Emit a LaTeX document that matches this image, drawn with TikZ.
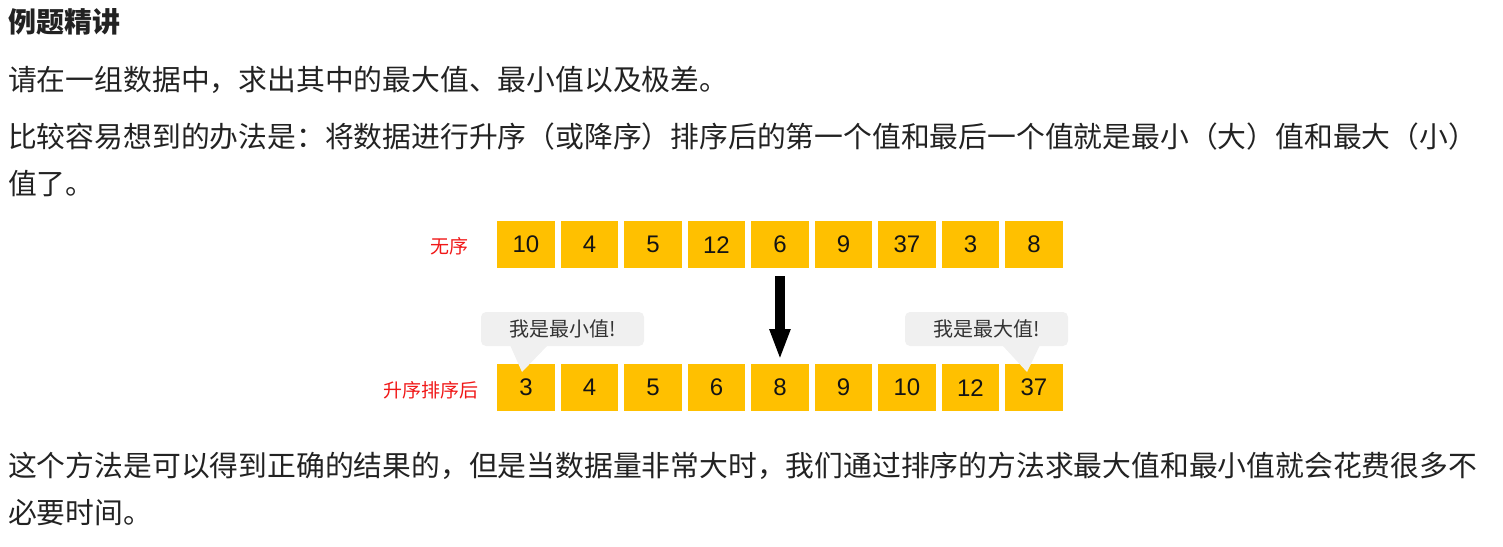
\documentclass[tikz,border=0pt]{standalone}
\usepackage{fontspec}
\setmainfont{Liberation Sans}
\newfontfamily\cjk{Noto Sans CJK SC}
\usetikzlibrary{arrows.meta}
\definecolor{gold}{HTML}{FFC000}
\definecolor{txt}{HTML}{222222}
\definecolor{labred}{HTML}{F01818}
\definecolor{bubfill}{HTML}{F0F0F0}
\definecolor{bubtxt}{HTML}{333333}
\begin{document}
\begin{tikzpicture}[x=1pt,y=-1pt,
  body/.style={anchor=west, inner sep=0, text=txt, font=\cjk\fontsize{28.8}{34}\selectfont},
  cell/.style={fill=gold, anchor=north west, minimum width=57.5pt, minimum height=47pt, inner sep=0, text=black!92, font=\fontsize{24}{27}\selectfont},
  lab/.style={anchor=east, inner sep=0, text=labred, font=\cjk\fontsize{19}{22}\selectfont},
  bubble/.style={fill=bubfill, rounded corners=5pt, minimum width=163pt, minimum height=34pt, inner sep=0, text=bubtxt, font=\cjk\fontsize{20}{23}\selectfont},
  tail/.style={fill=bubfill},
  bigarrow/.style={line width=10pt, -{Triangle[width=19pt,length=31pt]}}
]
\useasboundingbox (0,0) rectangle (1503,546);

% text paragraphs
\node[body, font=\cjk\bfseries\fontsize{28}{33}\selectfont] (title) at (8,22) {例题精讲};
\node[body] (l2) at (8,80) {请在一组数据中，求出其中的最大值、最小值以及极差。};
\node[body] (l3) at (8,137) {比较容易想到的办法是：将数据进行升序（或降序）排序后的第一个值和最后一个值就是最小（大）值和最大（小）};
\node[body] (l4) at (8,184) {值了。};
\node[body] (l5) at (8,466) {这个方法是可以得到正确的结果的，但是当数据量非常大时，我们通过排序的方法求最大值和最小值就会花费很多不};
\node[body] (l6) at (8,513) {必要时间。};

% rows
\foreach \v [count=\i from 0] in {10,4,5,12,6,9,37,3,8}
  \node[cell] (t\i) at ({497+63.5*\i},221) {\v};
\foreach \v [count=\i from 0] in {3,4,5,6,8,9,10,12,37}
  \node[cell] (b\i) at ({497+63.5*\i},364) {\v};

\node[lab] (lu) at (469,246) {无序};
\node[lab] (ls) at (479,390) {升序排序后};

% arrow
\draw[bigarrow, shorten <=8pt, shorten >=4pt] (t4.south) -- (b4.north);

% bubbles
\node[bubble] (bmin) at (562.5,329) {我是最小值!};
\fill[tail] (510,345) -- (522,372) -- (548,345) -- cycle;
\node[bubble] (bmax) at (986.5,329) {我是最大值!};
\fill[tail] (1002,345) -- (1027,372) -- (1040,345) -- cycle;
\end{tikzpicture}
\end{document}
